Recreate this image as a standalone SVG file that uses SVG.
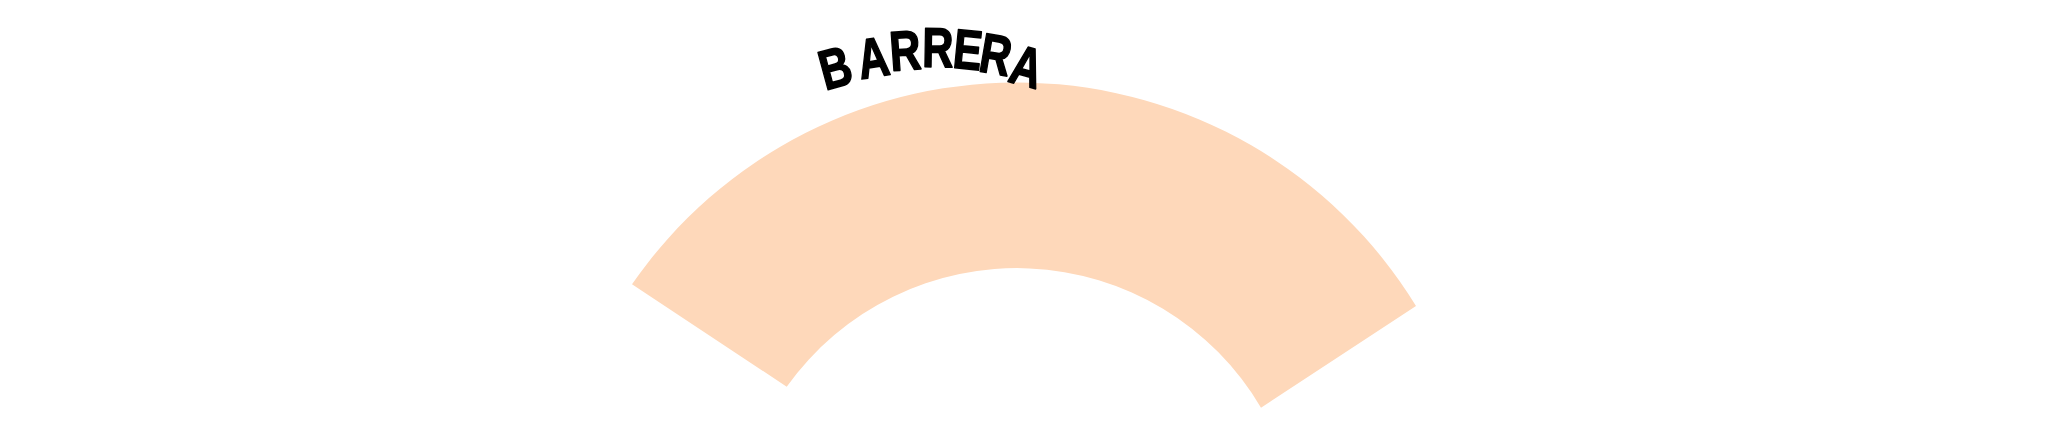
<svg xmlns="http://www.w3.org/2000/svg" width="2048" height="432" viewBox="0 0 2048 432">
<style>
.band{fill:#FED8BA;stroke:none}
.lbl{font-family:"Liberation Sans",Arial,sans-serif;font-weight:700;font-size:56px;fill:#000;stroke:#000;stroke-width:1.6;stroke-linejoin:round;text-anchor:middle}
</style>
<rect x="0" y="0" width="2048" height="432" fill="#ffffff"/>
<g id="arc-band">
<path class="band" d="M 632,284.3 A 468 468 0 0 1 1416,306 L 1261,407.7 A 283 283 0 0 0 786.7,386.7 Z"/>
</g>
<g id="title">
<text class="lbl" transform="translate(835,67) rotate(-15.2) scale(0.77,1)" y="20">B</text>
<text class="lbl" transform="translate(873,57) rotate(-9.1) scale(0.77,1)" y="20">A</text>
<text class="lbl" transform="translate(905,50) rotate(-4.1) scale(0.77,1)" y="20">R</text>
<text class="lbl" transform="translate(938,47) rotate(0.9) scale(0.77,1)" y="20">R</text>
<text class="lbl" transform="translate(968,49) rotate(5.5) scale(0.77,1)" y="20">E</text>
<text class="lbl" transform="translate(996,54) rotate(9.8) scale(0.77,1)" y="20">R</text>
<text class="lbl" transform="translate(1027,66) rotate(14.8) scale(0.77,1)" y="20">A</text>
</g>
</svg>
